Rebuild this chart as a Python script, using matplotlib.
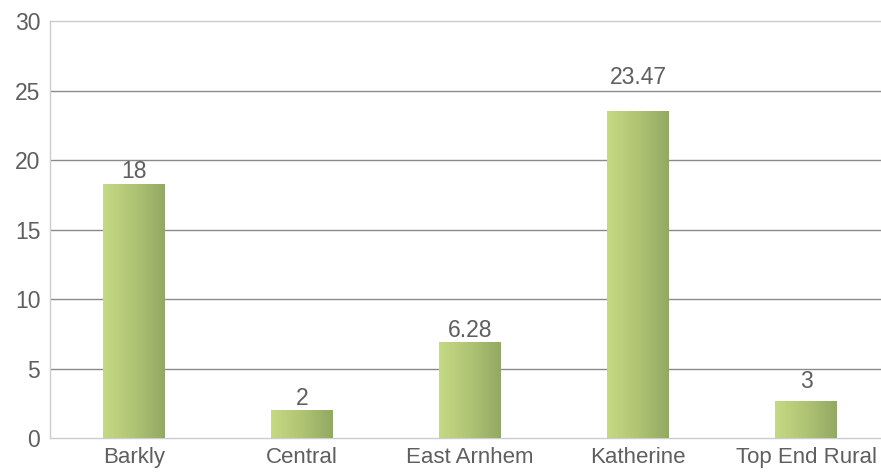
import matplotlib
matplotlib.use("Agg")
import matplotlib.pyplot as plt
import matplotlib.colors
import numpy as np

regions = ["Barkly", "Central", "East Arnhem", "Katherine", "Top End Rural"]
values = [18.2, 2.0, 6.9, 23.5, 2.6]
value_labels = ["18", "2", "6.28", "23.47", "3"]
# gap between bar top and its label, in points
label_gaps = [1.5, 0.5, 0.5, 16.5, 6.5]

text_color = "#5f5f5f"
plt.rcParams["font.family"] = ["Liberation Sans", "DejaVu Sans"]
green_map = matplotlib.colors.LinearSegmentedColormap.from_list(
    "green", ["#c6d983", "#afc474", "#93a862"])

fig = plt.figure(figsize=(8.81, 4.72), dpi=100)
ax = fig.add_axes([0.0568, 0.0714, 0.9432, 0.8841])

ax.set_xlim(-0.5, 4.446)
ax.set_ylim(0, 30)
ax.set_yticks(range(0, 31, 5))
ax.set_xticks(range(len(regions)))
ax.set_xticklabels(regions)

for y in range(5, 30, 5):
    ax.axhline(y, color="#8a8a8a", lw=1.0, zorder=1)

width = 0.365
bars = ax.bar(range(len(regions)), values, width=width, color="none", zorder=2)
grad = np.linspace(0, 1, 256).reshape(1, -1)
for b in bars:
    x0, y0 = b.get_x(), b.get_y()
    w, h = b.get_width(), b.get_height()
    ax.imshow(grad, cmap=green_map, aspect="auto",
              extent=(x0, x0 + w, y0, y0 + h), zorder=3)

for i, (v, lab, gap) in enumerate(zip(values, value_labels, label_gaps)):
    ax.annotate(lab, (i, v), xytext=(0, gap), textcoords="offset points",
                ha="center", va="bottom", fontsize=16.5, color=text_color)

for side in ["left", "top", "bottom", "right"]:
    ax.spines[side].set_color("#cccccc")
    ax.spines[side].set_linewidth(1.0)
ax.spines["right"].set_visible(False)

ax.tick_params(axis="both", length=0, labelsize=16.5, labelcolor=text_color)
ax.tick_params(axis="y", pad=7)
ax.tick_params(axis="x", pad=6.5, labelsize=16)

fig.savefig("out.png", dpi=100)
